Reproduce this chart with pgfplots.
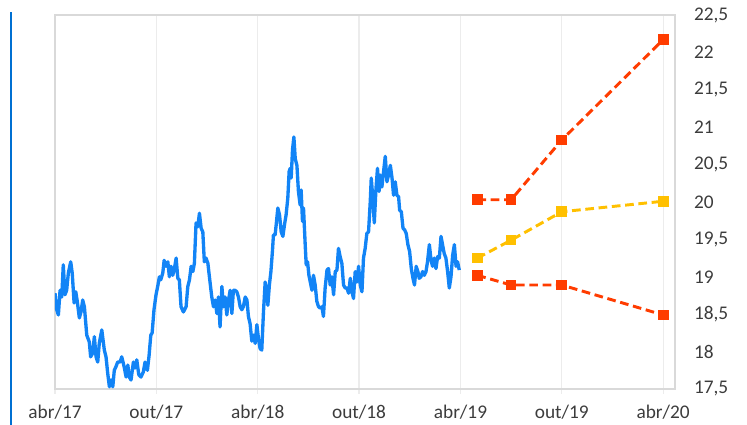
\documentclass[border=0pt]{standalone}
\usepackage{fontspec}
\setmainfont{Carlito}
\usepackage{pgfplots}
\pgfplotsset{compat=1.18}
\definecolor{serblue}{RGB}{18,132,246}
\definecolor{serred}{RGB}{255,60,0}
\definecolor{seryel}{RGB}{255,192,0}
\definecolor{bordergray}{RGB}{217,217,217}
\definecolor{gridgray}{RGB}{236,236,236}
\definecolor{leftblue}{RGB}{0,112,210}
\definecolor{txt}{RGB}{60,60,60}
\begin{document}
\begin{tikzpicture}[x=1pt,y=1pt]
\begin{axis}[at={(0,0)}, anchor=south west, scale only axis,
  width=465pt, height=280.5pt,
  xmin=0, xmax=36.7, ymin=17.5, ymax=22.5,
  axis line style={bordergray, line width=1.5pt},
  xtick={0,6,12,18,24,30,36},
  xticklabels={abr/17,out/17,abr/18,out/18,abr/19,out/19,abr/20},
  xtick pos=bottom, tick align=outside,
  major tick length=3.75pt,
  major x tick style={gridgray, line width=0.9pt},
  ytick={17.5,18,18.5,19,19.5,20,20.5,21,21.5,22,22.5},
  ytick pos=right, yticklabel pos=right,
  major y tick style={draw=none},
  xmajorgrids, grid style={gridgray, line width=0.9pt},
  tick label style={font=\fontsize{14.5}{16}\selectfont, text=txt},
  xticklabel style={yshift=-4.5pt},
  yticklabel style={anchor=west, xshift=7pt},
  /pgf/number format/.cd, use comma, fixed, precision=1, assume math mode=true,
]
\addplot[serblue, line width=2.5pt, line join=round] coordinates {
(0,18.78)(0.10,18.56)(0.20,18.49)(0.30,18.82)(0.40,18.73)(0.49,19.16)(0.59,18.76)(0.69,18.82)
(0.79,19.05)(0.93,19.20)(1.02,19.05)(1.13,18.65)(1.23,18.80)(1.32,18.67)(1.44,18.45)(1.54,18.53)
(1.64,18.69)(1.74,18.60)(1.88,18.22)(2.03,18.13)(2.11,17.93)(2.23,17.98)(2.33,18.20)(2.43,17.93)
(2.53,17.86)(2.62,18.11)(2.77,18.29)(2.92,18.02)(3.02,17.93)(3.12,17.71)(3.22,17.53)(3.32,17.62)
(3.42,17.53)(3.51,17.75)(3.61,17.80)(3.71,17.86)(3.85,17.86)(3.95,17.93)(4.09,17.80)(4.21,17.66)
(4.31,17.82)(4.40,17.66)(4.50,17.62)(4.64,17.86)(4.74,17.78)(4.84,17.89)(4.96,17.69)(5.09,17.66)
(5.23,17.73)(5.33,17.86)(5.47,17.75)(5.57,17.95)(5.67,18.22)(5.75,18.25)(5.86,18.56)(5.98,18.76)
(6.07,18.86)(6.18,19.00)(6.26,18.96)(6.38,19.05)(6.46,19.22)(6.58,19.14)(6.68,19.20)(6.77,19.00)
(6.87,19.14)(6.97,19.02)(7.07,19.11)(7.17,19.25)(7.27,18.98)(7.36,18.96)(7.46,18.60)(7.60,18.53)
(7.76,18.60)(7.86,18.87)(7.96,18.96)(8.06,19.14)(8.16,19.07)(8.25,19.18)(8.35,19.72)(8.45,19.67)
(8.55,19.85)(8.65,19.65)(8.75,19.60)(8.84,19.20)(8.94,19.25)(9.05,19.18)(9.14,19.00)(9.28,18.73)
(9.38,18.60)(9.48,18.69)(9.58,18.51)(9.67,18.73)(9.77,18.33)(9.88,18.87)(9.97,18.60)(10.07,18.73)
(10.17,18.49)(10.27,18.69)(10.37,18.82)(10.47,18.51)(10.56,18.82)(10.66,18.82)(10.76,18.80)(10.86,18.73)
(10.96,18.60)(11.06,18.56)(11.15,18.60)(11.26,18.73)(11.36,18.69)(11.45,18.47)(11.55,18.37)(11.65,18.14)
(11.75,18.22)(11.85,18.11)(11.95,18.36)(12.04,18.18)(12.14,18.04)(12.24,18.02)(12.34,18.53)(12.44,18.93)
(12.54,18.80)(12.60,18.62)(12.69,18.89)(12.78,19.07)(12.87,19.34)(12.93,19.56)(13.03,19.56)(13.09,19.69)
(13.19,19.92)(13.29,19.83)(13.39,19.60)(13.49,19.54)(13.58,19.69)(13.68,19.83)(13.78,20.05)(13.86,20.41)
(13.92,20.45)(13.98,20.32)(14.06,20.70)(14.14,20.87)(14.22,20.58)(14.32,20.49)(14.41,20.14)(14.51,19.96)
(14.57,20.16)(14.65,19.74)(14.71,19.92)(14.81,19.43)(14.87,19.16)(14.95,19.20)(15.03,19.02)(15.11,18.93)
(15.21,18.82)(15.30,19.02)(15.40,18.89)(15.50,18.67)(15.60,18.60)(15.70,18.58)(15.80,18.60)(15.89,18.47)
(15.99,18.85)(16.10,19.09)(16.19,19.11)(16.29,18.89)(16.39,19.00)(16.49,18.76)(16.59,19.07)(16.69,19.09)
(16.78,19.38)(16.88,19.27)(16.98,19.18)(17.08,18.89)(17.18,18.85)(17.28,18.85)(17.38,18.78)(17.48,18.98)
(17.58,18.80)(17.67,18.71)(17.77,19.07)(17.87,18.93)(17.97,19.14)(18.07,18.89)(18.17,18.80)(18.26,19.25)
(18.36,19.38)(18.46,19.58)(18.56,19.60)(18.66,20.00)(18.72,20.32)(18.80,20.09)(18.90,19.72)(19.00,20.18)
(19.09,20.45)(19.18,20.14)(19.25,20.36)(19.35,20.20)(19.45,20.41)(19.55,20.61)(19.65,20.27)(19.74,20.36)
(19.85,20.49)(19.95,20.32)(20.04,20.09)(20.14,20.27)(20.24,20.09)(20.34,20.07)(20.40,19.89)(20.50,19.87)
(20.60,19.65)(20.69,19.63)(20.79,19.58)(20.89,19.43)(20.99,19.34)(21.09,19.11)(21.19,18.98)(21.28,18.89)
(21.38,19.14)(21.48,19.07)(21.56,18.98)(21.66,19.00)(21.76,19.07)(21.86,19.02)(21.96,19.07)(22.05,19.20)
(22.16,19.43)(22.26,19.22)(22.35,19.14)(22.45,19.25)(22.55,19.11)(22.65,19.27)(22.75,19.25)(22.85,19.54)
(22.94,19.43)(23.04,19.31)(23.14,19.25)(23.24,19.07)(23.34,18.85)(23.44,19.00)(23.54,19.29)(23.64,19.43)
(23.74,19.14)(23.83,19.20)(23.93,19.09)
};
\addplot[serred, line width=2.2pt, dash pattern=on 6.5pt off 3.5pt, mark=square*, mark size=2.9pt, mark options={solid}]
  coordinates {(25,20.03)(27,20.03)(30,20.83)(36,22.17)};
\addplot[seryel, line width=2.2pt, dash pattern=on 6.5pt off 3.5pt, mark=square*, mark size=2.9pt, mark options={solid}]
  coordinates {(25,19.25)(27,19.49)(30,19.87)(36,20.01)};
\addplot[serred, line width=2.2pt, dash pattern=on 6.5pt off 3.5pt, mark=square*, mark size=2.9pt, mark options={solid}]
  coordinates {(25,19.02)(27,18.89)(30,18.89)(36,18.49)};
\end{axis}
\draw[leftblue, line width=1.2pt] (-33,-27) -- (-33,282.75);
\pgfresetboundingbox
\path[use as bounding box] (-41.25,-27) rectangle (519,291.75);
\end{tikzpicture}
\end{document}
